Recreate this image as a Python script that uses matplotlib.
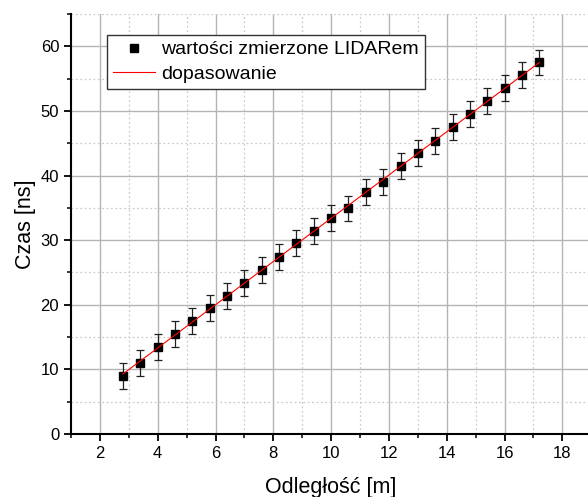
import numpy as np
import matplotlib
matplotlib.use("Agg")
import matplotlib.pyplot as plt
from matplotlib.ticker import MultipleLocator

plt.rcParams['font.family'] = ['Liberation Sans', 'DejaVu Sans']

odleglosc = [2.8, 3.4, 4.0, 4.6, 5.2, 5.8, 6.4, 7.0, 7.6, 8.2, 8.8, 9.4, 10.0,
             10.6, 11.2, 11.8, 12.4, 13.0, 13.6, 14.2, 14.8, 15.4, 16.0, 16.6, 17.2]
czas = [9.0, 11.0, 13.5, 15.5, 17.5, 19.5, 21.4, 23.4, 25.4, 27.4, 29.5, 31.4, 33.4,
        34.9, 37.5, 39.0, 41.5, 43.5, 45.4, 47.5, 49.5, 51.5, 53.5, 55.5, 57.5]
blad = [2.0] * len(czas)

x = np.array(odleglosc)
y = np.array(czas)

# dopasowanie liniowe
a, b = np.polyfit(x, y, 1)
x_fit = np.array([x.min(), x.max()])
y_fit = a * x_fit + b

fig = plt.figure(figsize=(5.88, 4.97), dpi=100)
ax = fig.add_axes([0.1207, 0.1268, 0.8849, 0.845])

ax.errorbar(x, y, yerr=blad, fmt='none', ecolor='#222222', elinewidth=0.9,
            capsize=2.9, capthick=0.9, zorder=3)
ax.plot(x, y, 's', color='black', markersize=5.8, linestyle='none',
        label='wartości zmierzone LIDARem', zorder=4)
ax.plot(x_fit, y_fit, '-', color='red', lw=0.8, label='dopasowanie', zorder=5)

ax.set_xlim(1, 19)
ax.set_ylim(0, 65)
ax.xaxis.set_major_locator(MultipleLocator(2))
ax.xaxis.set_minor_locator(MultipleLocator(1))
ax.yaxis.set_major_locator(MultipleLocator(10))
ax.yaxis.set_minor_locator(MultipleLocator(5))

ax.grid(which='major', color='#b4b4b4', linestyle='-', linewidth=1.0)
ax.grid(which='minor', color='#cccccc', linestyle=(0, (1.5, 2)), linewidth=0.9)
ax.set_axisbelow(True)

for s in ['top', 'right']:
    ax.spines[s].set_visible(False)
for s in ['left', 'bottom']:
    ax.spines[s].set_linewidth(1.5)

ax.tick_params(which='major', direction='out', length=5, width=1.3, labelsize=12)
ax.tick_params(which='minor', direction='out', length=3, width=1.1)

ax.set_xlabel('Odległość [m]', fontsize=15.5, labelpad=12)
ax.set_ylabel('Czas [ns]', fontsize=15.5, labelpad=3)

leg = ax.legend(loc='upper left', bbox_to_anchor=(0.0687, 0.95), borderaxespad=0,
                fontsize=14, fancybox=False, framealpha=1, edgecolor='#333333',
                handlelength=2.2, handletextpad=0.3, borderpad=0.3, labelspacing=0.35)
leg.get_frame().set_linewidth(1.0)

fig.savefig('out.png', dpi=100)
